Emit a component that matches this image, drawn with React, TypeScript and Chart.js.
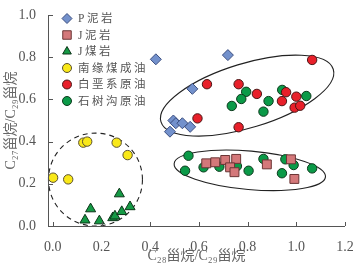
import React, { useEffect, useRef } from 'react';
import { Chart, registerables } from 'chart.js';

Chart.register(...registerables);

// ---- tick values ----
const xTicks = [0, 0.2, 0.4, 0.6, 0.8, 1.0, 1.2];
const yTicks = [0, 0.2, 0.4, 0.6, 0.8, 1.0];

// ---- series (x = C28/C29, y = C27/C29) ----
const pMudX = [0.423, 0.719, 0.573, 0.495, 0.505, 0.532, 0.564, 0.481];
const pMudY = [0.79, 0.81, 0.65, 0.5, 0.487, 0.487, 0.47, 0.447];

const jMudX = [0.63, 0.667, 0.708, 0.753, 0.728, 0.746, 0.879, 0.978, 0.992];
const jMudY = [0.297, 0.302, 0.313, 0.318, 0.278, 0.255, 0.292, 0.316, 0.223];

const jCoalX = [0.132, 0.155, 0.191, 0.246, 0.255, 0.273, 0.283, 0.317];
const jCoalY = [0.028, 0.081, 0.024, 0.039, 0.047, 0.152, 0.068, 0.091];

const southOilX = [0.001, 0.063, 0.125, 0.141, 0.262, 0.307];
const southOilY = [0.229, 0.221, 0.395, 0.4, 0.395, 0.336];

const cretOilX = [0.633, 0.763, 0.838, 0.941, 0.958, 1.0, 0.993, 1.016, 1.065, 0.594, 0.763];
const cretOilY = [0.672, 0.672, 0.626, 0.592, 0.634, 0.613, 0.561, 0.57, 0.787, 0.51, 0.468];

const sscOilX = [0.794, 0.774, 0.735, 0.886, 0.865, 0.942, 1.041, 0.557, 0.543, 0.619, 0.684, 0.756, 0.804, 0.865, 0.955, 0.989, 0.941, 1.065];
const sscOilY = [0.636, 0.602, 0.569, 0.592, 0.542, 0.645, 0.616, 0.333, 0.262, 0.278, 0.281, 0.284, 0.262, 0.318, 0.316, 0.289, 0.25, 0.273];

const seriesNames = ['P泥岩', 'J泥岩', 'J煤岩', '南缘煤成油', '白垩系原油', '石树沟原油'];

// ---- grouping outlines (data units; radii in x-axis units) ----
const outlines = [
  { cx: 0.798, cy: 0.618, rx: 0.37, ry: 0.132, rot: -17, dash: [] as number[] },
  { cx: 0.809, cy: 0.264, rx: 0.312, ry: 0.079, rot: 5, dash: [] as number[] },
  { cx: 0.175, cy: 0.22, rx: 0.193, ry: 0.191, rot: 0, dash: [5, 4] },
];

const toPts = (xs: number[], ys: number[]) => xs.map((x, i) => ({ x, y: ys[i] }));

const SERIF = "'Liberation Serif', 'Noto Sans CJK SC', serif";
const AXIS = '#555';

function drawShape(ctx: CanvasRenderingContext2D, style: string, x: number, y: number, r: number) {
  ctx.beginPath();
  if (style === 'rectRot') {
    ctx.moveTo(x, y - r); ctx.lineTo(x + r, y); ctx.lineTo(x, y + r); ctx.lineTo(x - r, y); ctx.closePath();
  } else if (style === 'rect') {
    const s = r * Math.SQRT1_2;
    ctx.rect(x - s, y - s, 2 * s, 2 * s);
  } else if (style === 'triangle') {
    for (let k = 0; k < 3; k++) {
      const a = (k * 2 * Math.PI) / 3;
      const px = x + Math.sin(a) * r, py = y - Math.cos(a) * r;
      if (k === 0) ctx.moveTo(px, py); else ctx.lineTo(px, py);
    }
    ctx.closePath();
  } else {
    ctx.arc(x, y, r, 0, Math.PI * 2);
  }
  ctx.fill();
  ctx.stroke();
}

const outlinePlugin = {
  id: 'outlines',
  beforeDatasetsDraw(chart: any) {
    const { ctx, scales } = chart;
    const xs = scales.x, ys = scales.y;
    const unit = xs.getPixelForValue(1) - xs.getPixelForValue(0);
    ctx.save();
    ctx.strokeStyle = '#222';
    ctx.lineWidth = 1.1;
    outlines.forEach((o) => {
      ctx.setLineDash(o.dash);
      ctx.beginPath();
      ctx.ellipse(xs.getPixelForValue(o.cx), ys.getPixelForValue(o.cy), o.rx * unit, o.ry * unit, (o.rot * Math.PI) / 180, 0, Math.PI * 2);
      ctx.stroke();
    });
    ctx.restore();
  },
  afterDraw(chart: any) {
    const { ctx, scales, chartArea } = chart;
    const xs = scales.x, ys = scales.y;
    ctx.save();
    ctx.strokeStyle = AXIS;
    ctx.lineWidth = 1;
    ctx.setLineDash([]);
    ctx.beginPath();
    ctx.moveTo(chartArea.left + 0.5, chartArea.top);
    ctx.lineTo(chartArea.left + 0.5, chartArea.bottom + 0.5);
    ctx.lineTo(chartArea.right, chartArea.bottom + 0.5);
    ctx.stroke();
    ctx.beginPath();
    xTicks.forEach((v) => {
      const p = Math.round(xs.getPixelForValue(v)) + 0.5;
      ctx.moveTo(p, chartArea.bottom);
      ctx.lineTo(p, chartArea.bottom - 4);
    });
    yTicks.forEach((v) => {
      const p = Math.round(ys.getPixelForValue(v)) + 0.5;
      ctx.moveTo(chartArea.left, p);
      ctx.lineTo(chartArea.left + 5, p);
    });
    ctx.stroke();

    // legend
    const lx = chartArea.left + 19;
    const tx = chartArea.left + 30;
    chart.data.datasets.forEach((ds: any, i: number) => {
      const y = 18.5 + i * 16.5;
      ctx.fillStyle = ds.backgroundColor;
      ctx.strokeStyle = ds.borderColor;
      ctx.lineWidth = 1;
      const r = ds.pointStyle === 'circle' ? 4.5 : ds.pointStyle === 'rect' ? 6 : 5;
      drawShape(ctx, ds.pointStyle, lx, y, r);
      ctx.fillStyle = '#555';
      ctx.font = `11.5px ${SERIF}`;
      ctx.textBaseline = 'middle';
      ctx.textAlign = 'left';
      (ctx as any).letterSpacing = '2.5px';
      ctx.fillText(ds.label, tx, y + 0.5);
      (ctx as any).letterSpacing = '0px';
    });
    ctx.restore();
  },
};

export default function App() {
  const ref = useRef<HTMLCanvasElement>(null);
  useEffect(() => {
    document.body.style.margin = '0';
    const mk = (i: number, xs: number[], ys: number[], style: string, r: number, bg: string, bd: string) => ({
      label: seriesNames[i],
      data: toPts(xs, ys),
      pointStyle: style,
      pointRadius: r,
      pointHoverRadius: r,
      backgroundColor: bg,
      borderColor: bd,
      pointBorderWidth: 1,
      clip: false as any,
    });
    const chart = new Chart(ref.current!, {
      type: 'scatter',
      data: {
        datasets: [
          mk(0, pMudX, pMudY, 'rectRot', 5.5, '#7391cc', '#3c4f80'),
          mk(1, jMudX, jMudY, 'rect', 6.3, '#d4787a', '#6b3535'),
          mk(2, jCoalX, jCoalY, 'triangle', 5.8, '#159a45', '#0c3518'),
          mk(3, southOilX, southOilY, 'circle', 4.7, '#f9e818', '#5a5030'),
          mk(4, cretOilX, cretOilY, 'circle', 4.7, '#e8202a', '#4a1515'),
          mk(5, sscOilX, sscOilY, 'circle', 4.7, '#0b9a48', '#0c3a1c'),
        ] as any,
      },
      options: {
        responsive: false,
        animation: false,
        devicePixelRatio: 1,
        layout: { padding: { top: 15, right: 8, left: 0, bottom: 0 } },
        plugins: { legend: { display: false }, tooltip: { enabled: false } },
        scales: {
          x: {
            type: 'linear',
            min: -0.02,
            max: 1.2,
            afterBuildTicks: (s: any) => { s.ticks = xTicks.map((v) => ({ value: v })); },
            afterFit: (s: any) => { s.height = 41; s.paddingLeft = 0; s.paddingRight = 0; },
            grid: { display: false },
            border: { display: false },
            ticks: {
              callback: (v: any) => Number(v).toFixed(1),
              padding: 5,
              autoSkip: false,
              maxRotation: 0,
              color: AXIS,
              font: { family: SERIF, size: 14 },
            },
            title: {
              display: true,
              text: 'C₂₈甾烷/C₂₉甾烷',
              color: '#666',
              font: { family: SERIF, size: 14 },
              padding: { top: 0, bottom: 2 },
            },
          },
          y: {
            type: 'linear',
            min: 0,
            max: 1,
            afterBuildTicks: (s: any) => { s.ticks = yTicks.map((v) => ({ value: v })); },
            afterFit: (s: any) => { s.width = 48; s.paddingTop = 0; s.paddingBottom = 0; },
            grid: { display: false },
            border: { display: false },
            ticks: {
              callback: (v: any) => Number(v).toFixed(1),
              padding: 4,
              autoSkip: false,
              color: AXIS,
              font: { family: SERIF, size: 14 },
            },
            title: {
              display: true,
              text: 'C₂₇甾烷/C₂₉甾烷',
              color: '#666',
              font: { family: SERIF, size: 14 },
              padding: { top: 3, bottom: 0 },
            },
          },
        },
      } as any,
      plugins: [outlinePlugin],
    });
    return () => chart.destroy();
  }, []);
  return (
    <div style={{ position: 'absolute', left: 0, top: 0, width: 353, height: 267 }}>
      <canvas ref={ref} width={353} height={267} style={{ width: '353px', height: '267px' }} />
    </div>
  );
}
